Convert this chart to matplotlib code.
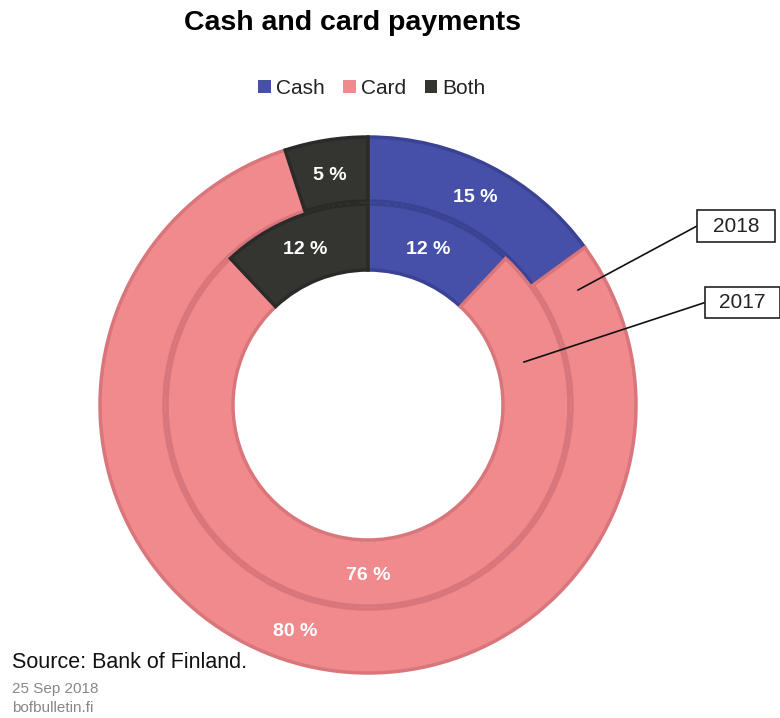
"""Cash and card payments donut chart (2018 outer ring, 2017 inner ring)."""

import matplotlib

matplotlib.use("Agg")

import matplotlib.pyplot as plt
from matplotlib.patches import Patch, Rectangle

plt.rcParams["font.family"] = ["Liberation Sans", "DejaVu Sans"]

categories = ["Cash", "Card", "Both"]
share_2018 = [15, 80, 5]
share_2017 = [12, 76, 12]
ring_years = ["2018", "2017"]

fill_colors = ["#4650a8", "#f08a8c", "#343431"]
edge_colors = ["#3a4294", "#d9767c", "#2a2a28"]

W, H = 780, 718
fig = plt.figure(figsize=(W / 100, H / 100), dpi=100)
ax = fig.add_axes([0, 0, 1, 1])

cx, cy = 368, H - 405
r_outer, r_inner = 268, 201

outer, _ = ax.pie(share_2018, radius=r_outer, center=(cx, cy), startangle=90,
                  counterclock=False, colors=fill_colors,
                  wedgeprops=dict(width=64, linewidth=2.5))
inner, _ = ax.pie(share_2017, radius=r_inner, center=(cx, cy), startangle=90,
                  counterclock=False, colors=fill_colors,
                  wedgeprops=dict(width=66, linewidth=2.5))
for ring in (outer, inner):
    for w, ec in zip(ring, edge_colors):
        w.set_edgecolor(ec)
ax.set_xlim(0, W)
ax.set_ylim(0, H)
ax.set_aspect("equal")
ax.axis("off")

# percentage labels
lbl = dict(color="white", fontsize=14, fontweight="bold", ha="center", va="center")
outer_pos = [(475, 197), (295, 631), (330, 175)]
inner_pos = [(428, 250), (368, 576), (305, 250)]
for (x, y), v in zip(outer_pos, share_2018):
    ax.text(x, H - y, f"{v} %", **lbl)
for (x, y), v in zip(inner_pos, share_2017):
    ax.text(x, H - y, f"{v} %", **lbl)

# year call-outs: box (left, top, width, height) and the point on the ring
callouts = [((697, 210, 78, 32), (578, 290)), ((705, 287, 75, 31), (524, 362))]
for year, ((bx, by, bw, bh), (px, py)) in zip(ring_years, callouts):
    ax.add_patch(Rectangle((bx, H - by - bh), bw, bh, facecolor="white",
                           edgecolor="#222222", linewidth=1.2, zorder=3))
    ax.plot([bx, px], [H - by - bh / 2, H - py], color="#111111", lw=1.2, zorder=2)
    ax.text(bx + bw / 2, H - by - bh / 2, year, fontsize=15, color="#222222",
            ha="center", va="center", zorder=4)

fig.text(352 / W, 1 - 23 / H, "Cash and card payments", fontsize=20.5,
         fontweight="bold", ha="center", va="center")

handles = [Patch(facecolor=c, edgecolor="none") for c in fill_colors]
fig.legend(handles, categories, loc="center", bbox_to_anchor=(372 / W, 1 - 88 / H),
           ncol=3, frameon=False, fontsize=15, handlelength=0.6, handleheight=0.6,
           handletextpad=0.25, columnspacing=0.9, labelcolor="#222222")

fig.text(12 / W, 1 - 663 / H, "Source: Bank of Finland.", fontsize=15.5,
         color="#111111", ha="left", va="center")
fig.text(12 / W, 1 - 689 / H, "25 Sep 2018", fontsize=11, color="#888888",
         ha="left", va="center")
fig.text(12 / W, 1 - 708 / H, "bofbulletin.fi", fontsize=11, color="#888888",
         ha="left", va="center")

fig.savefig("out.png", dpi=100)
plt.close(fig)
